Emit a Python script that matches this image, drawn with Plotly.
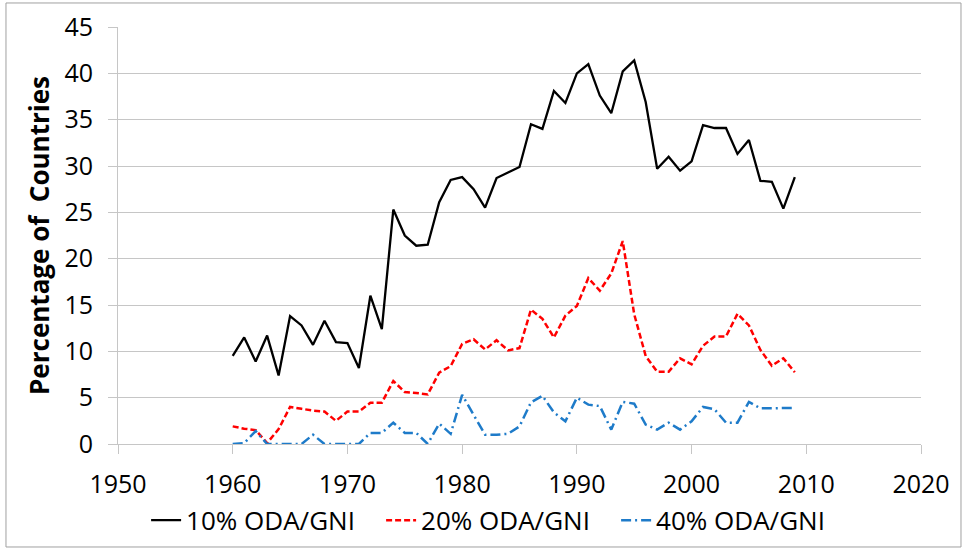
import plotly.graph_objects as go

# share of countries above each ODA/GNI threshold, by year
years = [1960, 1961, 1962, 1963, 1964, 1965, 1966, 1967, 1968, 1969,
         1970, 1971, 1972, 1973, 1974, 1975, 1976, 1977, 1978, 1979,
         1980, 1981, 1982, 1983, 1984, 1985, 1986, 1987, 1988, 1989,
         1990, 1991, 1992, 1993, 1994, 1995, 1996, 1997, 1998, 1999,
         2000, 2001, 2002, 2003, 2004, 2005, 2006, 2007, 2008, 2009]

oda_10 = [9.5, 11.5, 8.9, 11.7, 7.4, 13.8, 12.8, 10.7, 13.3, 11.0,
          10.9, 8.2, 16.0, 12.4, 25.3, 22.5, 21.4, 21.5, 26.1, 28.5,
          28.8, 27.5, 25.5, 28.7, 29.3, 29.9, 34.5, 34.0, 38.1, 36.8,
          40.0, 41.0, 37.6, 35.7, 40.2, 41.4, 36.9, 29.7, 31.0, 29.5,
          30.5, 34.4, 34.1, 34.1, 31.3, 32.8, 28.4, 28.3, 25.4, 28.8]

oda_20 = [1.9, 1.65, 1.5, 0.1, 1.6, 4.0, 3.8, 3.6, 3.5, 2.5,
          3.5, 3.5, 4.45, 4.45, 6.8, 5.6, 5.5, 5.35, 7.7, 8.4,
          10.8, 11.3, 10.2, 11.2, 10.1, 10.35, 14.5, 13.5, 11.5, 13.85,
          14.9, 17.9, 16.55, 18.4, 21.9, 14.0, 9.5, 7.8, 7.8, 9.25,
          8.6, 10.6, 11.6, 11.6, 14.05, 12.8, 10.15, 8.45, 9.25, 7.75]

oda_40 = [0.0, 0.1, 1.4, 0.0, 0.0, 0.0, 0.0, 1.0, 0.0, 0.0,
          0.0, 0.0, 1.2, 1.2, 2.3, 1.2, 1.2, 0.0, 2.2, 1.1,
          5.3, 3.1, 1.0, 1.0, 1.1, 1.9, 4.5, 5.2, 3.4, 2.45,
          5.0, 4.25, 4.1, 1.55, 4.55, 4.35, 2.1, 1.55, 2.3, 1.55,
          2.45, 4.0, 3.75, 2.3, 2.3, 4.55, 3.85, 3.85, 3.85, 3.9]

FONT = "Open Sans"
GRID = "#C6C6C6"

fig = go.Figure()
fig.add_trace(go.Scatter(
    x=years, y=oda_10, mode="lines", name="10% ODA/GNI",
    line=dict(color="#000000", width=2.3),
))
fig.add_trace(go.Scatter(
    x=years, y=oda_20, mode="lines", name="20% ODA/GNI",
    line=dict(color="#FF0000", width=2.5, dash="6px,3px"),
))
fig.add_trace(go.Scatter(
    x=years, y=oda_40, mode="lines", name="40% ODA/GNI",
    line=dict(color="#1E7BC9", width=2.5, dash="10px,4px,2px,4px"),
))

fig.update_layout(
    width=965,
    height=550,
    margin=dict(l=118, r=44, t=27, b=106, autoexpand=False),
    plot_bgcolor="white",
    paper_bgcolor="white",
    font=dict(family=FONT, size=25, color="#000000"),
    showlegend=True,
    legend=dict(
        orientation="h",
        x=0.035, xanchor="left",
        y=-0.183, yanchor="middle",
        font=dict(size=26),
        itemwidth=30,
        entrywidth=190,
    ),
    xaxis=dict(
        range=[1950, 2020],
        tickvals=[1950, 1960, 1970, 1980, 1990, 2000, 2010, 2020],
        showgrid=False,
        zeroline=False,
        showline=True, linecolor=GRID, linewidth=1,
        ticks="outside", ticklen=9, tickcolor=GRID,
        ticklabelstandoff=9,
        tickfont=dict(size=25),
    ),
    yaxis=dict(
        range=[0, 45],
        dtick=5,
        showgrid=True, gridcolor=GRID, gridwidth=1,
        zeroline=False,
        showline=True, linecolor=GRID, linewidth=1,
        ticks="outside", ticklen=9, tickcolor=GRID,
        ticklabelstandoff=10,
        tickfont=dict(size=25),
        title=dict(text="<b>Percentage of  Countries</b>", font=dict(size=26), standoff=7),
    ),
    shapes=[dict(
        type="rect", xref="paper", yref="paper",
        x0=-0.1395, x1=1.0498, y0=-0.247, y1=1.0576,
        line=dict(color="#A0A0A0", width=1),
    )],
)

fig.write_html(
    "out.html",
    config={"displayModeBar": False},
    post_script="document.body.style.margin='0';",
)
